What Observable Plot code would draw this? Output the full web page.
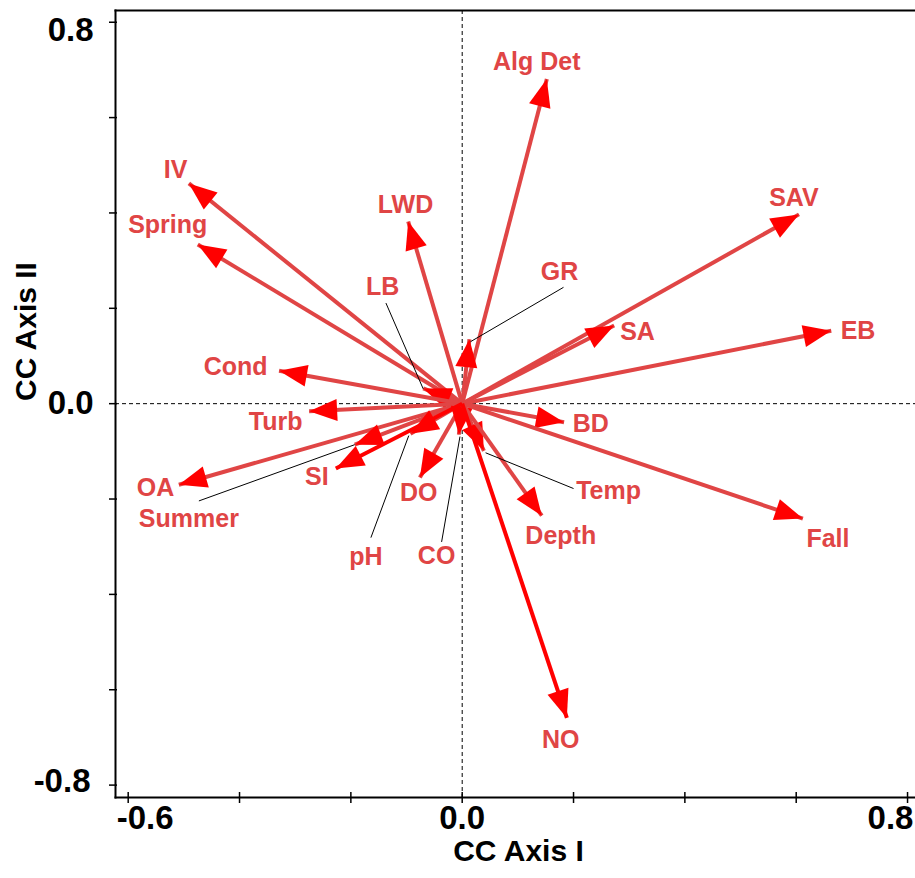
<!DOCTYPE html>
<html>
<head>
<meta charset="utf-8">
<script src="https://cdn.jsdelivr.net/npm/d3@7"></script>
<script src="https://cdn.jsdelivr.net/npm/@observablehq/plot@0.6"></script>
<style>
  html, body { margin: 0; padding: 0; background: #fff; }
  svg { display: block; }
</style>
</head>
<body>
<script>
// ---- Data ----
const names  = ["Alg Det","IV","Spring","LWD","SAV","LB","GR","SA","EB","Cond","Turb","BD","OA","Summer","SI","pH","DO","CO","Temp","Depth","NO","Fall"];
const axis1  = [0.152,-0.491,-0.475,-0.097,0.605,-0.070,0.013,0.273,0.663,-0.329,-0.275,0.183,-0.509,-0.193,-0.227,-0.093,-0.076,-0.006,0.039,0.143,0.188,0.612];
const axis2  = [0.681,0.462,0.334,0.382,0.397,0.032,0.135,0.164,0.153,0.069,-0.016,-0.039,-0.170,-0.086,-0.136,-0.063,-0.155,-0.065,-0.099,-0.235,-0.659,-0.241];
const labelX = [0.134,-0.515,-0.529,-0.102,0.596,-0.143,0.175,0.315,0.711,-0.407,-0.335,0.231,-0.551,-0.491,-0.261,-0.173,-0.078,-0.046,0.263,0.177,0.177,0.657];
const labelY = [0.716,0.490,0.374,0.416,0.432,0.245,0.276,0.150,0.152,0.076,-0.038,-0.042,-0.176,-0.241,-0.153,-0.321,-0.187,-0.319,-0.183,-0.277,-0.705,-0.283];

const leaderNames = ["LB","GR","Summer","pH","CO","Temp"];
const leaderX1 = [-0.137,0.182,-0.473,-0.164,-0.037,0.200];
const leaderY1 = [0.211,0.244,-0.204,-0.281,-0.290,-0.178];
const leaderX2 = [-0.070,0.015,-0.193,-0.096,-0.004,0.042];
const leaderY2 = [0.031,0.130,-0.086,-0.067,-0.069,-0.103];

const xTicks = [-0.6,-0.4,-0.2,0,0.2,0.4,0.6,0.8];
const yTicks = [-0.8,-0.6,-0.4,-0.2,0,0.2,0.4,0.6,0.8];
const xTitle = "CC Axis I";
const yTitle = "CC Axis II";

// ---- Build tables ----
const vectors = names.map((name, i) => ({name, x: axis1[i], y: axis2[i], lx: labelX[i], ly: labelY[i]}));
const leaders = leaderNames.map((name, i) => ({name, x1: leaderX1[i], y1: leaderY1[i], x2: leaderX2[i], y2: leaderY2[i]}));
const bright = new Set(["NO","SI"]);
const fmt = d => (+d).toFixed(1);

const NS = "http://www.w3.org/2000/svg";
function head(color, context) {
  const doc = (context && context.document) || document;
  const m = doc.createElementNS(NS, "marker");
  m.setAttribute("viewBox", "-28 -11 28 22");
  m.setAttribute("markerUnits", "userSpaceOnUse");
  m.setAttribute("markerWidth", 28);
  m.setAttribute("markerHeight", 22);
  m.setAttribute("refX", 0);
  m.setAttribute("refY", 0);
  m.setAttribute("orient", "auto");
  m.setAttribute("overflow", "visible");
  const p = doc.createElementNS(NS, "path");
  p.setAttribute("d", "M-28,-11L0,0L-28,11Z");
  p.setAttribute("fill", "#ff0000");
  p.setAttribute("stroke", "none");
  m.appendChild(p);
  return m;
}

const F = "Liberation Sans, Arial, Helvetica, sans-serif";
const labelRed = "#e04545";

const chart = Plot.plot({
  width: 915,
  height: 878,
  marginLeft: 115,
  marginRight: 0,
  marginTop: 10,
  marginBottom: 81,
  x: {domain: [-0.6228, 0.8143], axis: null},
  y: {domain: [-0.826, 0.8246], axis: null},
  style: {fontFamily: F, background: "#fff", overflow: "visible"},
  marks: [
    Plot.ruleY([0], {stroke: "black", strokeWidth: 1, strokeDasharray: "4,3"}),
    Plot.ruleX([0], {stroke: "black", strokeWidth: 1, strokeDasharray: "4,3"}),
    Plot.link(vectors.filter(d => !bright.has(d.name)), {x1: 0, y1: 0, x2: "x", y2: "y", stroke: labelRed, strokeWidth: 4, markerEnd: head}),
    Plot.link(vectors.filter(d => bright.has(d.name)), {x1: 0, y1: 0, x2: "x", y2: "y", stroke: "#ff0000", strokeWidth: 4, markerEnd: head}),
    Plot.link(leaders, {x1: "x1", y1: "y1", x2: "x2", y2: "y2", stroke: "black", strokeWidth: 1}),
    Plot.text(vectors, {x: "lx", y: "ly", text: "name", fill: labelRed, fontSize: 25, fontWeight: "bold"}),
    Plot.frame({anchor: "left", stroke: "black", strokeWidth: 2}),
    Plot.frame({anchor: "bottom", stroke: "black", strokeWidth: 2}),
    Plot.frame({anchor: "top", stroke: "black", strokeWidth: 2}),
    Plot.axisX(xTicks, {tickSize: 11, dy: -5, tickFormat: () => "", label: null, strokeWidth: 1.5}),
    Plot.axisY(yTicks, {tickSize: 8, dx: 2, tickFormat: () => "", label: null, strokeWidth: 1.5}),
    Plot.text([-0.6], {x: d => d, text: fmt, frameAnchor: "bottom", dy: 31, dx: 17, fontSize: 33, fontWeight: "bold", fill: "black"}),
    Plot.text([0], {x: d => d, text: fmt, frameAnchor: "bottom", dy: 31, dx: 0, fontSize: 33, fontWeight: "bold", fill: "black"}),
    Plot.text([0.8], {x: d => d, text: fmt, frameAnchor: "bottom", dy: 31, dx: -17, fontSize: 33, fontWeight: "bold", fill: "black"}),
    Plot.text([0.8], {y: d => d, text: fmt, frameAnchor: "left", textAnchor: "end", dx: -22, dy: 8, fontSize: 33, fontWeight: "bold", fill: "black"}),
    Plot.text([0], {y: d => d, text: fmt, frameAnchor: "left", textAnchor: "end", dx: -22, dy: 0, fontSize: 33, fontWeight: "bold", fill: "black"}),
    Plot.text([-0.8], {y: d => d, text: fmt, frameAnchor: "left", textAnchor: "end", dx: -25, dy: -4, fontSize: 33, fontWeight: "bold", fill: "black"}),
    Plot.text([xTitle], {text: d => d, frameAnchor: "bottom", dy: 63, dx: 3, fontSize: 30, fontWeight: "bold", fill: "black"}),
    Plot.text([yTitle], {text: d => d, frameAnchor: "left", rotate: -90, dx: -89, dy: -3, fontSize: 30, fontWeight: "bold", fill: "black"})
  ]
});
document.body.appendChild(chart);
</script>
</body>
</html>
